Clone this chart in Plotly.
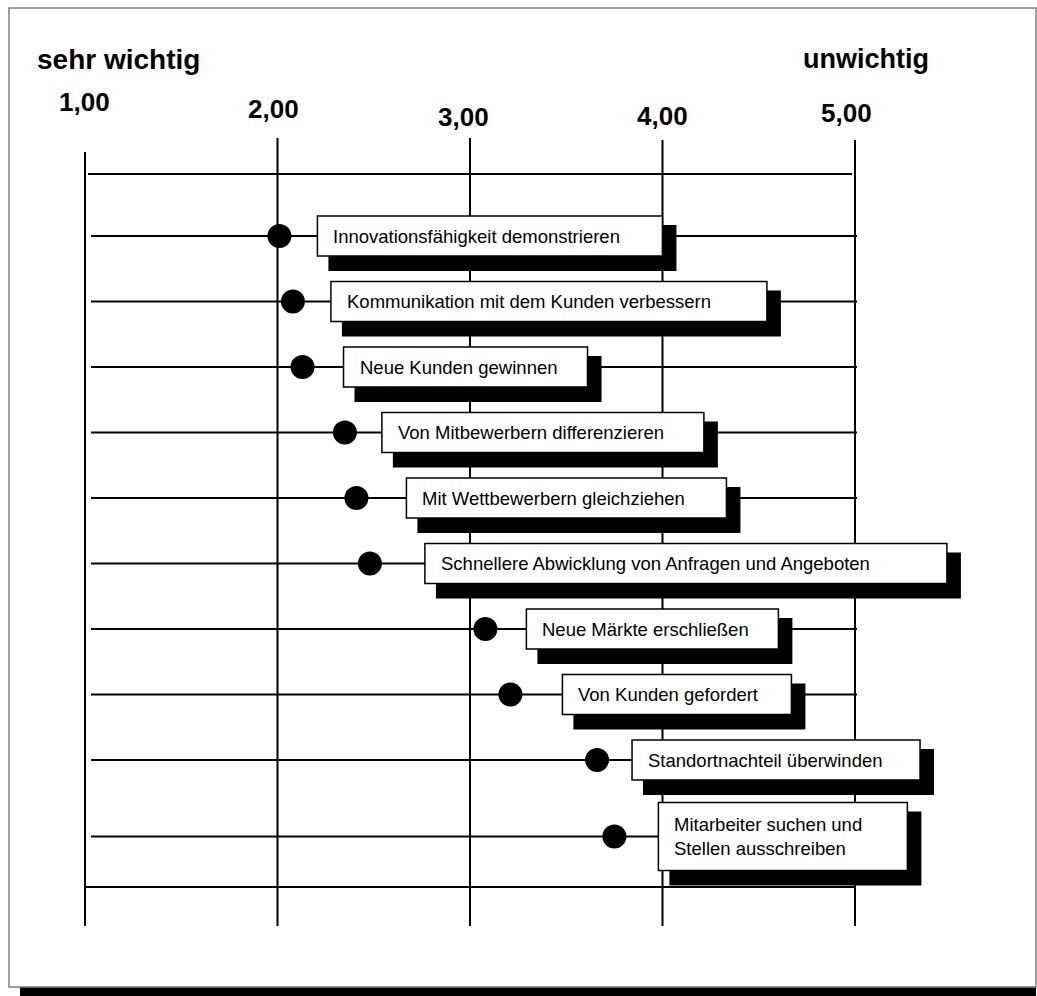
import plotly.graph_objects as go

# Importance ratings, scale 1 (sehr wichtig) .. 5 (unwichtig)
categories = [
    "Innovationsfähigkeit demonstrieren",
    "Kommunikation mit dem Kunden verbessern",
    "Neue Kunden gewinnen",
    "Von Mitbewerbern differenzieren",
    "Mit Wettbewerbern gleichziehen",
    "Schnellere Abwicklung von Anfragen und Angeboten",
    "Neue Märkte erschließen",
    "Von Kunden gefordert",
    "Standortnachteil überwinden",
    "Mitarbeiter suchen und<br>Stellen ausschreiben",
]
scores = [2.01, 2.08, 2.13, 2.35, 2.41, 2.48, 3.08, 3.21, 3.66, 3.75]

tick_values = [1, 2, 3, 4, 5]
tick_labels = ["1,00", "2,00", "3,00", "4,00", "5,00"]
left_title = "sehr wichtig"
right_title = "unwichtig"

# ---- page geometry (pixels) ----
W, H = 1037, 996
PX_PER_UNIT = 192.5   # horizontal pixels per scale step
X1_PX = 85            # pixel column of scale value 1
ROW_PX = 65.5         # vertical pitch of the rows
ROW0_PX = 236         # pixel row of the first category
EXTRA_LINE = 11 / ROW_PX  # extra spacing per additional text line

FONT = "Liberation Sans, Arial, Helvetica, sans-serif"
INK = "#000000"


def xval(px):
    return 1 + (px - X1_PX) / PX_PER_UNIT


def yval(py):
    return (py - ROW0_PX) / ROW_PX


def dx(px):
    return px / PX_PER_UNIT


def dy(py):
    return py / ROW_PX


def pxf(px):
    return px / W


def pyf(py):
    return 1 - py / H


# row positions: multi-line labels get a little more room
n_lines = [c.count("<br>") + 1 for c in categories]
row_y = []
pos = 0.0
for i, n in enumerate(n_lines):
    if i > 0:
        pos += 1 + EXTRA_LINE * ((n_lines[i - 1] - 1) + (n - 1))
    row_y.append(pos)

# label box styling: gap from dot centre and box width, in pixels
box_gap_px = [38, 38, 41, 37, 50, 55, 41, 52, 35, 44]
box_width_px = [345, 436, 244, 322, 320, 522, 252, 229, 288, 249]
BOX_H_PX = 40
LINE_H_PX = 28
TEXT_PAD_PX = 14
SHADOW = dict(left=11, right=14, top=9, bottom=15)

shapes = []

# outer frame with drop shadow
shapes.append(dict(type="rect", xref="paper", yref="paper", layer="below",
                   x0=pxf(20), x1=pxf(1036), y0=pyf(1000), y1=pyf(20),
                   fillcolor=INK, line=dict(width=0)))
shapes.append(dict(type="rect", xref="paper", yref="paper", layer="below",
                   x0=pxf(9), x1=pxf(1036), y0=pyf(987), y1=pyf(8),
                   fillcolor="white", line=dict(color="#808080", width=1.5)))

# vertical scale lines
grid_top_px = [152, 138, 138, 140, 140]
for v, top in zip(tick_values, grid_top_px):
    shapes.append(dict(type="line", xref="x", yref="y", layer="below",
                       x0=v, x1=v, y0=yval(top), y1=yval(926),
                       line=dict(color=INK, width=2)))

# top and bottom rules
shapes.append(dict(type="line", xref="x", yref="y", layer="below",
                   x0=xval(88), x1=xval(852), y0=yval(174), y1=yval(174),
                   line=dict(color=INK, width=2)))
shapes.append(dict(type="line", xref="x", yref="y", layer="below",
                   x0=xval(85), x1=xval(855), y0=yval(887), y1=yval(887),
                   line=dict(color=INK, width=2)))

# one rule per category
for y in row_y:
    shapes.append(dict(type="line", xref="x", yref="y", layer="below",
                       x0=xval(91), x1=xval(857), y0=y, y1=y,
                       line=dict(color=INK, width=2)))

annotations = []

# label boxes with shadows
for cat, s, y, n, gap, wid in zip(categories, scores, row_y, n_lines,
                                  box_gap_px, box_width_px):
    h = BOX_H_PX + LINE_H_PX * (n - 1)
    bx0 = s + dx(gap)
    bx1 = bx0 + dx(wid)
    by0 = y - dy(h / 2)
    by1 = y + dy(h / 2)
    shapes.append(dict(type="rect", xref="x", yref="y", layer="above",
                       x0=bx0 + dx(SHADOW["left"]), x1=bx1 + dx(SHADOW["right"]),
                       y0=by0 + dy(SHADOW["top"]), y1=by1 + dy(SHADOW["bottom"]),
                       fillcolor=INK, line=dict(width=0)))
    shapes.append(dict(type="rect", xref="x", yref="y", layer="above",
                       x0=bx0, x1=bx1, y0=by0, y1=by1,
                       fillcolor="white", line=dict(color=INK, width=1.5)))
    annotations.append(dict(xref="x", yref="y", x=bx0 + dx(TEXT_PAD_PX), y=y,
                            text=cat, showarrow=False, xanchor="left",
                            yanchor="middle", align="left",
                            font=dict(family=FONT, size=18.5, color=INK)))

# scale end titles
annotations.append(dict(xref="paper", yref="paper", x=pxf(35), y=pyf(60),
                        text=f"<b>{left_title}</b>", showarrow=False,
                        xanchor="left", yanchor="middle",
                        font=dict(family=FONT, size=28, color=INK)))
annotations.append(dict(xref="paper", yref="paper", x=pxf(801), y=pyf(59),
                        text=f"<b>{right_title}</b>", showarrow=False,
                        xanchor="left", yanchor="middle",
                        font=dict(family=FONT, size=27, color=INK)))

# staggered scale numbers
tick_label_y_px = [102, 109, 117, 116, 113]
tick_label_shift_px = [-1, -4, -7, 0, -9]
for v, t, ypx, xs in zip(tick_values, tick_labels, tick_label_y_px,
                         tick_label_shift_px):
    annotations.append(dict(xref="x", yref="paper", x=v, y=pyf(ypx),
                            xshift=xs, text=f"<b>{t}</b>", showarrow=False,
                            xanchor="center", yanchor="middle",
                            font=dict(family=FONT, size=26, color=INK)))

fig = go.Figure()
fig.add_trace(go.Scatter(
    x=scores, y=row_y, mode="markers",
    marker=dict(size=24, color=INK, symbol="circle", line=dict(width=0)),
    hoverinfo="skip", showlegend=False,
))

fig.update_layout(
    width=W, height=H,
    margin=dict(l=0, r=0, t=0, b=0),
    paper_bgcolor="white",
    plot_bgcolor="rgba(0,0,0,0)",
    xaxis=dict(range=[xval(0), xval(W)], visible=False, fixedrange=True),
    yaxis=dict(range=[yval(H), yval(0)], visible=False, fixedrange=True),
    shapes=shapes,
    annotations=annotations,
    showlegend=False,
)

fig.write_html("out.html")
